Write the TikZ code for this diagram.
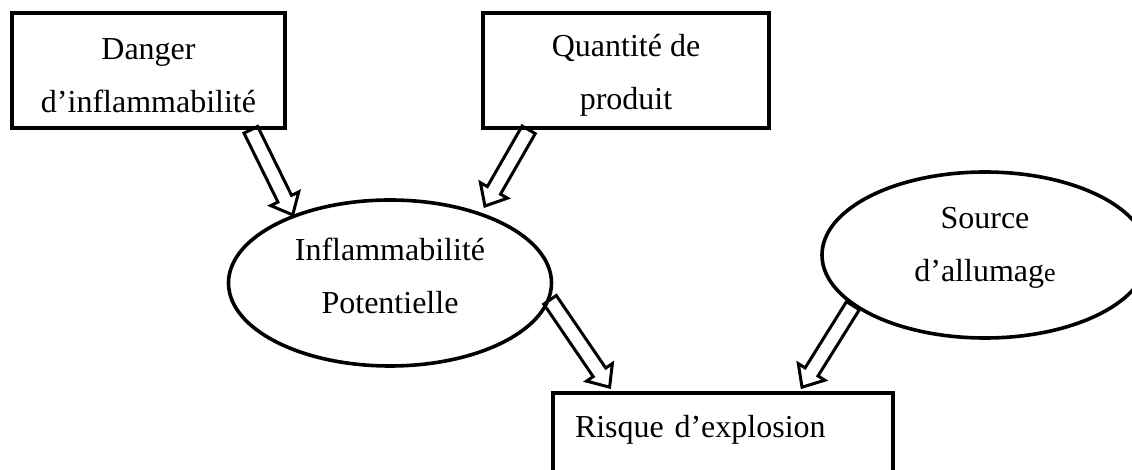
\documentclass[tikz,border=0pt]{standalone}
\usepackage{fontspec}
\setmainfont{Liberation Serif}
\usetikzlibrary{shapes, arrows.meta, positioning, calc}

\begin{document}
\begin{tikzpicture}[x=0.5pt, y=-0.5pt,
    boxnode/.style={draw, line width=1.8pt, rectangle, align=center, inner sep=0pt},
    bubble/.style={draw, line width=1.8pt, ellipse, align=center, inner sep=0pt},
    fatarrow/.style={draw, line width=1.5pt, line join=miter, to path={
      let \p1=(\tikztostart), \p2=(\tikztotarget) in
        ($(\p1)!3.8pt!90:(\p2)$)
        -- ($(\p2)!9pt!(\p1)!3.8pt!90:(\p2)$)
        -- ($(\p2)!9pt!(\p1)!7.8pt!90:(\p2)$)
        -- (\p2)
        -- ($(\p2)!9pt!(\p1)!7.8pt!-90:(\p2)$)
        -- ($(\p2)!9pt!(\p1)!3.8pt!-90:(\p2)$)
        -- ($(\p1)!3.8pt!-90:(\p2)$) -- cycle}}]
  \useasboundingbox (0,0) rectangle (1132,470);
  \fontsize{16pt}{26.5pt}\selectfont

  % boites du haut
  \node[boxnode, minimum width=136.5pt, minimum height=57.5pt, text height=42pt] (danger) at (148.5,70.5)
    {Danger\\d’inflammabilité};
  \node[boxnode, minimum width=143pt, minimum height=57.5pt, text height=42pt] (quantite) at (626,70.5)
    {Quantité de\\produit};

  % ellipses
  \node[bubble, minimum width=161.5pt, minimum height=83pt, text depth=7pt] (inflam) at (390,283)
    {Inflammabilité\\Potentielle};
  \node[bubble, minimum width=163pt, minimum height=83pt, text depth=10.5pt] (source) at (985,255)
    {Source\\d’allumag{\fontsize{13pt}{13pt}\selectfont e}};

  % boite du bas
  \node[boxnode, align=left, text width=148pt, inner xsep=11pt, minimum height=60pt] (risque) at (723,453)
    {Risque d’explosion\\\mbox{}};

  % fleches
  \draw[fatarrow] ($(danger.south west)!0.87!(danger.south east)$) to (inflam.145);
  \draw[fatarrow] ($(quantite.south west)!0.164!(quantite.south east)$) to ([yshift=4pt]inflam.36);
  \draw[fatarrow] (inflam.-6) to ([yshift=2pt]$(risque.north west)!0.17!(risque.north east)$);
  \draw[fatarrow] (source.201) to ([yshift=2pt]$(risque.north west)!0.73!(risque.north east)$);
\end{tikzpicture}
\end{document}
